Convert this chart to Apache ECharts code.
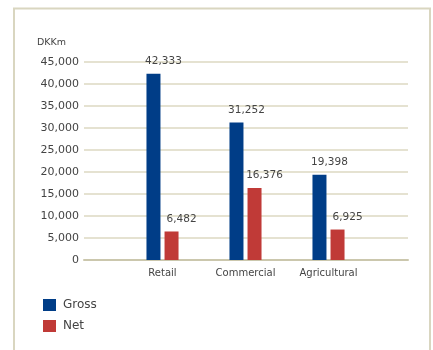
<!DOCTYPE html>
<html><head><meta charset="utf-8">
<script src="https://cdn.jsdelivr.net/npm/echarts@6/dist/echarts.min.js"></script>
<style>html,body{margin:0;padding:0;background:#fff}#c{width:433px;height:350px}</style>
</head><body><div id="c"></div>
<script>
const categories = ['Retail', 'Commercial', 'Agricultural'];
const gross = [42333, 31252, 19398];
const net = [6482, 16376, 6925];
const seriesNames = ['Gross', 'Net'];
const unitLabel = 'DKKm';
const yMin = 0, yMax = 45000, yStep = 5000;

const font = 'DejaVu Sans';
const txt = '#444';
const grid = '#dcd8c2';
const chart = echarts.init(document.getElementById('c'), null, {renderer: 'canvas'});
const fmt = v => v.toLocaleString('en-US');
const lbl = {show: true, position: 'top', distance: 7, offset: [10, 0], color: txt, fontFamily: font, fontSize: 10.5, formatter: p => fmt(p.value)};
chart.setOption({
  animation: false,
  graphic: [{type: 'rect', shape: {x: 14, y: 8.5, width: 416, height: 400}, style: {fill: 'none', stroke: '#d9d6c0', lineWidth: 2}}],
  grid: [
    {left: 84, right: 25, top: 62, bottom: 90},
    {left: 121, right: 63, top: 62, bottom: 90}
  ],
  legend: {
    orient: 'vertical', left: 38, top: 294, itemWidth: 13, itemHeight: 12, itemGap: 9,
    icon: 'rect', data: seriesNames,
    textStyle: {color: txt, fontFamily: font, fontSize: 12, padding: [0, 0, 0, 2]}
  },
  xAxis: [
    {type: 'category', gridIndex: 0, data: [''], axisLine: {show: true, lineStyle: {color: '#cbc7ad', width: 2}}, axisTick: {show: false}, axisLabel: {show: false}},
    {type: 'category', gridIndex: 1, data: categories, axisLine: {show: false}, axisTick: {show: false},
     axisLabel: {color: txt, fontFamily: font, fontSize: 10, margin: 8}}
  ],
  yAxis: [
    {type: 'value', gridIndex: 0, min: yMin, max: yMax, interval: yStep, name: unitLabel, nameLocation: 'end', nameGap: 14,
     nameTextStyle: {color: txt, fontFamily: font, fontSize: 9.5, align: 'left', padding: [0, 0, 0, -47]},
     axisLine: {show: false}, axisTick: {show: false},
     axisLabel: {color: txt, fontFamily: font, fontSize: 11, margin: 5, formatter: v => fmt(v)},
     splitLine: {lineStyle: {color: grid, width: 1.5}}},
    {type: 'value', gridIndex: 1, min: yMin, max: yMax, interval: yStep, show: false, splitLine: {show: false}}
  ],
  series: [
    {name: seriesNames[0], type: 'bar', xAxisIndex: 1, yAxisIndex: 1, data: gross, barWidth: 14, barGap: '29%', itemStyle: {color: '#003d87'}, label: lbl},
    {name: seriesNames[1], type: 'bar', xAxisIndex: 1, yAxisIndex: 1, data: net, barWidth: 14, barGap: '29%', itemStyle: {color: '#c03a37'}, label: lbl}
  ]
});
</script></body></html>
